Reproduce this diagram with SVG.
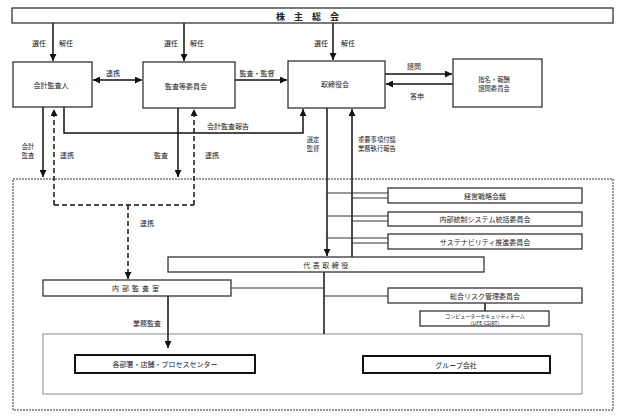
<svg xmlns="http://www.w3.org/2000/svg" width="622" height="417" viewBox="0 0 622 417">
<style>
text{font-family:"Noto Sans CJK JP","Liberation Sans",sans-serif;font-size:7px;fill:#222;text-anchor:middle;dominant-baseline:central}
.box{fill:#fff;stroke:#333;stroke-width:1.3}
.bold{fill:#fff;stroke:#111;stroke-width:2}
.ln{fill:none;stroke:#111;stroke-width:1.5}
.thin{fill:none;stroke:#333;stroke-width:1}
.dash{fill:none;stroke:#111;stroke-width:1.5;stroke-dasharray:5,3}
.l{text-anchor:start}
.two{font-size:6.3px}
</style>
<defs>
<marker id="a" markerUnits="userSpaceOnUse" markerWidth="7" markerHeight="7" refX="7" refY="3.5" orient="auto-start-reverse">
<path d="M0,0 L7,3.5 L0,7 z" fill="#111"/>
</marker>
</defs>

<rect x="13" y="179" width="600" height="231" fill="none" stroke="#333" stroke-width="1" stroke-dasharray="2,1"/>
<rect x="43" y="334" width="539" height="60" fill="none" stroke="#888" stroke-width="1"/>

<g id="connectors">
<line class="ln" x1="53" y1="23" x2="53" y2="61" marker-end="url(#a)"/>
<line class="ln" x1="184" y1="23" x2="184" y2="61" marker-end="url(#a)"/>
<line class="ln" x1="333" y1="23" x2="333" y2="60" marker-end="url(#a)"/>
<line class="ln" x1="93" y1="80" x2="142" y2="80" marker-start="url(#a)" marker-end="url(#a)"/>
<line class="ln" x1="235" y1="80" x2="287" y2="80" marker-end="url(#a)"/>
<line class="ln" x1="385" y1="74" x2="452" y2="74" marker-end="url(#a)"/>
<line class="ln" x1="453" y1="84" x2="386" y2="84" marker-end="url(#a)"/>
<polyline class="ln" points="64,107 64,133 303,133 303,109" marker-end="url(#a)"/>
<line class="ln" x1="43" y1="107" x2="43" y2="177" marker-end="url(#a)"/>
<line class="ln" x1="178" y1="108" x2="178" y2="177" marker-end="url(#a)"/>
<polyline class="dash" points="54,205 54,109" marker-end="url(#a)"/>
<polyline class="dash" points="194,205 194,109" marker-end="url(#a)"/>
<line class="dash" x1="54" y1="205" x2="194" y2="205"/>
<line class="dash" x1="128" y1="205" x2="128" y2="279" marker-end="url(#a)"/>
<line class="ln" x1="327" y1="108" x2="327" y2="256" marker-end="url(#a)"/>
<line class="ln" x1="352" y1="257" x2="352" y2="109" marker-end="url(#a)"/>
<line class="thin" x1="327" y1="193" x2="388" y2="193"/>
<line class="thin" x1="352" y1="198" x2="388" y2="198"/>
<line class="thin" x1="327" y1="216" x2="388" y2="216"/>
<line class="thin" x1="352" y1="221" x2="388" y2="221"/>
<line class="thin" x1="327" y1="238" x2="388" y2="238"/>
<line class="thin" x1="352" y1="243" x2="388" y2="243"/>
<line class="ln" x1="324" y1="272" x2="324" y2="334"/>
<line class="thin" x1="231" y1="288" x2="324" y2="288"/>
<line class="thin" x1="324" y1="296" x2="388" y2="296"/>
<line class="ln" x1="485" y1="303" x2="485" y2="311"/>
<line class="ln" x1="168" y1="296" x2="168" y2="348" marker-end="url(#a)"/>
</g>

<g id="kabunushi"><rect class="box" x="12" y="8" width="601" height="15"/><text x="312" y="16" style="font-size:9px;font-weight:bold;letter-spacing:9px">株主総会</text></g>
<g id="kaikei"><rect class="box" x="13" y="62" width="79" height="45"/><text x="51" y="85">会計監査人</text></g>
<g id="kansa"><rect class="box" x="143" y="62" width="92" height="46"/><text x="186" y="86">監査等委員会</text></g>
<g id="torishimariyakukai"><rect class="box" x="288" y="61" width="97" height="47"/><text x="335" y="84">取締役会</text></g>
<g id="shimei"><rect class="box" x="453" y="59" width="89" height="48"/><text class="two" x="494" y="79.5">指名・報酬</text><text class="two" x="494" y="88.5">諮問委員会</text></g>

<g id="senryaku"><rect class="box" x="388" y="188" width="194" height="15"/><text x="485" y="196">経営戦略会議</text></g>
<g id="naibutosei"><rect class="box" x="388" y="212" width="194" height="14"/><text x="485" y="219">内部統制システム統括委員会</text></g>
<g id="sustain"><rect class="box" x="388" y="234" width="194" height="15"/><text x="485" y="241.5">サステナビリティ推進委員会</text></g>
<g id="daihyo"><rect class="box" x="168" y="257" width="316" height="15"/><text x="327" y="265" style="letter-spacing:2.5px">代表取締役</text></g>
<g id="naibukansa"><rect class="box" x="43" y="280" width="188" height="16"/><text x="137" y="288" style="letter-spacing:3px">内部監査室</text></g>
<g id="risk"><rect class="box" x="388" y="288" width="194" height="15"/><text x="485" y="295.5">総合リスク管理委員会</text></g>
<g id="csirt"><rect class="box" x="420" y="311" width="129" height="15"/><text x="485" y="315.5" style="font-size:5px">コンピューターセキュリティチーム</text><text x="485" y="322" style="font-size:5px">（LIFE-CSIRT）</text></g>
<g id="kakubusho"><rect class="bold" x="75" y="355" width="180" height="18"/><text x="165" y="364">各部署・店舗・プロセスセンター</text></g>
<g id="group"><rect class="bold" x="363" y="356" width="187" height="17"/><text x="456" y="364.5">グループ会社</text></g>

<g id="labels">
<text x="39" y="43">選任</text><text x="66" y="43">解任</text>
<text x="171" y="43">選任</text><text x="197" y="43">解任</text>
<text x="321" y="43">選任</text><text x="348" y="43">解任</text>
<text x="113" y="73">連携</text>
<text x="257" y="73">監査・監督</text>
<text x="414" y="66">諮問</text>
<text x="417" y="96">答申</text>
<text x="228" y="126">会計監査報告</text>
<text class="two" x="28" y="146.5">会計</text><text class="two" x="28" y="155.5">監査</text>
<text x="67" y="155">連携</text>
<text x="161" y="155">監査</text>
<text x="212" y="155">連携</text>
<text class="two" x="313" y="139.5">選定</text><text class="two" x="313" y="148.5">監督</text>
<text class="l two" x="358" y="139.5">重要事項付議</text><text class="l two" x="358" y="148.5">業務執行報告</text>
<text x="147" y="223">連携</text>
<text x="147" y="323">業務監査</text>
</g>
</svg>
